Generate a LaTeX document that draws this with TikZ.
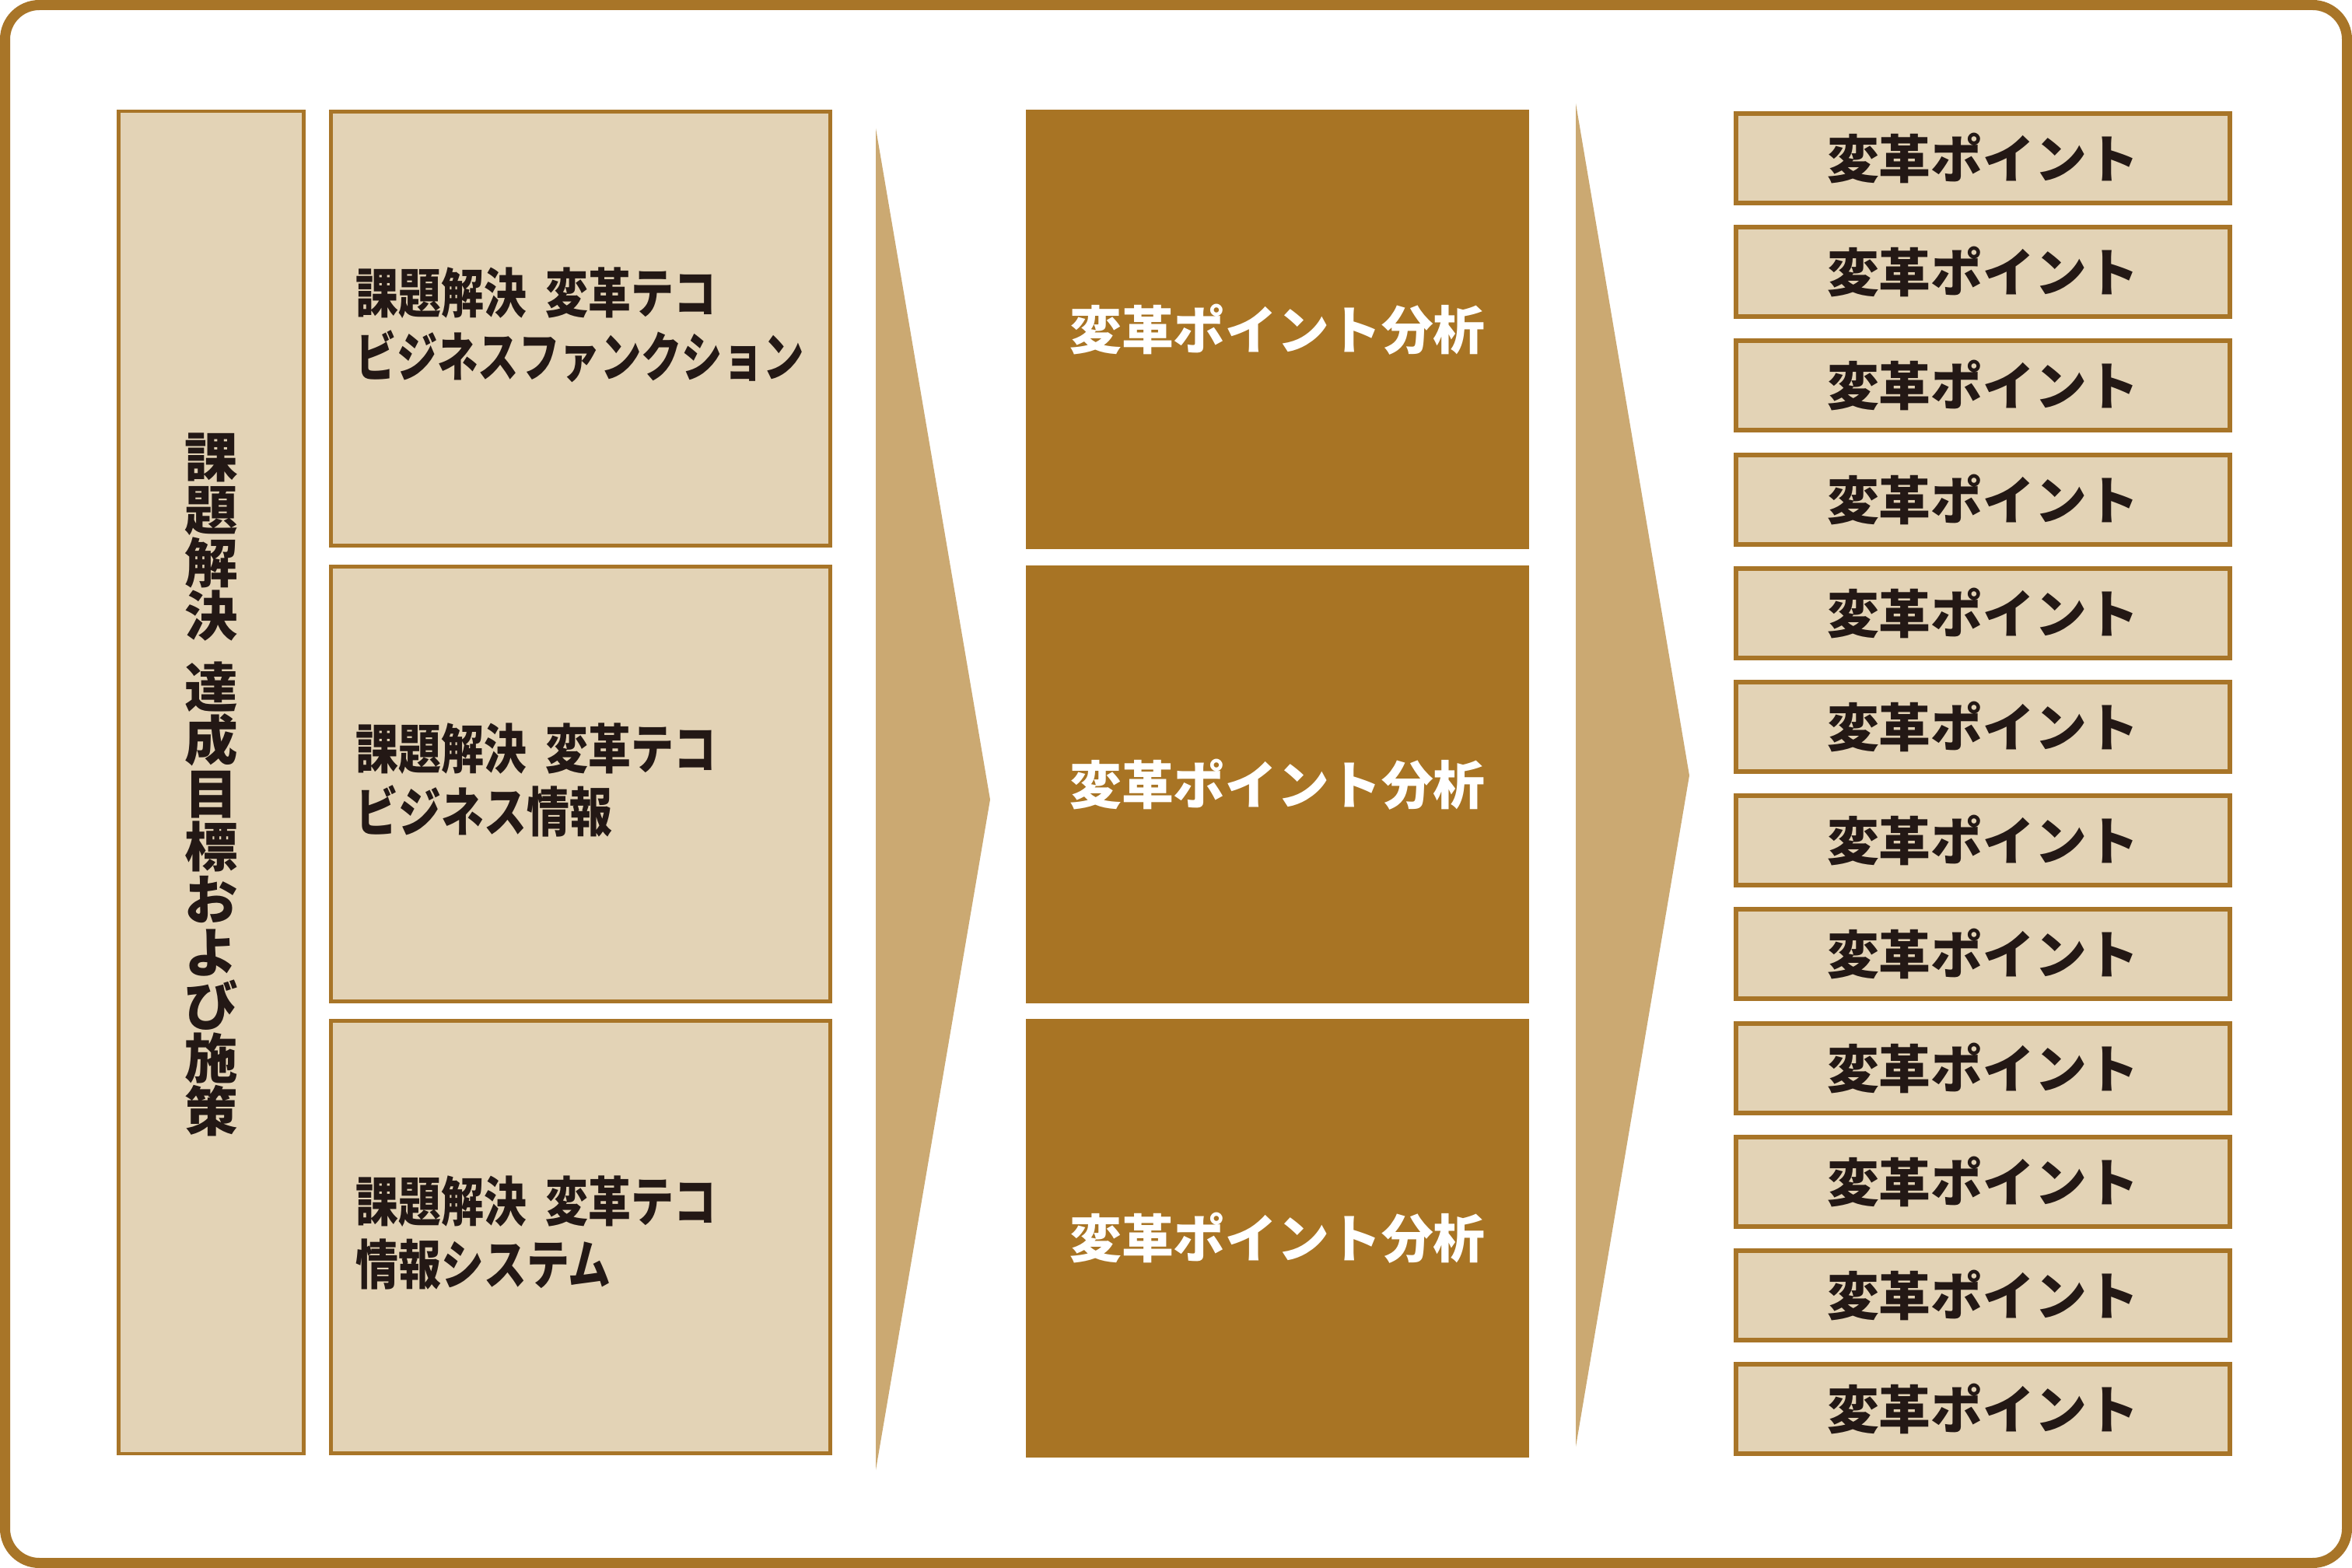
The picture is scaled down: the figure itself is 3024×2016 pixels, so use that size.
\documentclass[tikz,border=0pt]{standalone}
\usepackage{fontspec}
\setmainfont{Noto Sans CJK JP}
\newfontfamily\jpnarrow{Noto Sans CJK JP}[FakeStretch=0.80]
\definecolor{edgec}{RGB}{168,117,40}
\definecolor{darkc}{RGB}{168,116,36}
\definecolor{lightc}{RGB}{227,211,182}
\definecolor{arrowc}{RGB}{203,169,114}
\definecolor{inkc}{RGB}{35,24,21}
\tikzset{
  lbox/.style={draw=edgec, fill=lightc, line width=1.4pt, inner sep=0pt, rectangle},
  dbox/.style={fill=darkc, inner sep=0pt, rectangle, minimum width=6.47cm},
  rbox/.style={draw=edgec, fill=lightc, line width=1.7pt, inner sep=0pt, rectangle,
    minimum width=6.35cm, minimum height=1.15cm, text=inkc,
    font=\fontsize{19}{22}\selectfont\bfseries},
  ltext/.style={anchor=west, align=left, inner sep=0pt, text=inkc,
    font=\jpnarrow\fontsize{19.5}{23.3}\selectfont\bfseries},
  vtext/.style={align=center, inner sep=0pt, text=inkc,
    font=\fontsize{19.5}{19.35}\selectfont\bfseries},
  dtext/.style={text=white, inner sep=0pt, font=\fontsize{19}{22}\selectfont\bfseries},
}
\begin{document}
\lineskiplimit=-30pt\relax
\begin{tikzpicture}[x=0.01cm, y=-0.01cm]
\useasboundingbox (0,0) rectangle (3024,2016);
\fill[white] (0,0) rectangle (3024,2016);
% outer frame
\draw[edgec, line width=3.7pt, rounded corners=0.44cm] (6.5,6.5) rectangle (3017.5,2009.5);
% left tall box
\node[lbox, minimum width=2.38cm, minimum height=17.25cm] (goal) at (271.5,1006) {};
\node[vtext] (goaltext) at (272,1009) {課\\題\\解\\決\\[6.8pt]達\\成\\目\\標\\お\\よ\\び\\施\\策};
% three input boxes
\node[lbox, minimum width=6.42cm, minimum height=5.58cm] (in1) at (746.5,422.5) {};
\node[lbox, minimum width=6.42cm, minimum height=5.59cm] (in2) at (746.5,1008) {};
\node[lbox, minimum width=6.42cm, minimum height=5.56cm] (in3) at (746.5,1590.5) {};
\node[ltext] (in1t) at (457,418) {課題解決\hspace{7pt}変革テコ\\\scalebox{0.955}[1]{ビジネスファンクション}};
\node[ltext] (in2t) at (457,1003) {課題解決\hspace{7pt}変革テコ\\ビジネス情報};
\node[ltext] (in3t) at (457,1585) {課題解決\hspace{7pt}変革テコ\\情報システム};
% arrow 1
\fill[arrowc] (1126,165) -- (1273,1028) -- (1126,1890) -- cycle;
% analysis boxes
\node[dbox, minimum height=5.65cm] (an1) at (1642.5,423.5) {};
\node[dbox, minimum height=5.63cm] (an2) at (1642.5,1008.5) {};
\node[dbox, minimum height=5.64cm] (an3) at (1642.5,1592) {};
\node[dtext] (an1t) at (an1) {変革ポイント分析};
\node[dtext] (an2t) at (an2) {変革ポイント分析};
\node[dtext] (an3t) at (an3) {変革ポイント分析};
% arrow 2
\fill[arrowc] (2026,133) -- (2172,997) -- (2026,1860) -- cycle;
% point boxes
\foreach \i in {0,...,11}
  \node[rbox] (p\i) at (2549.5,{203.5+146.2*\i}) {変革ポイント};
\end{tikzpicture}
\end{document}
